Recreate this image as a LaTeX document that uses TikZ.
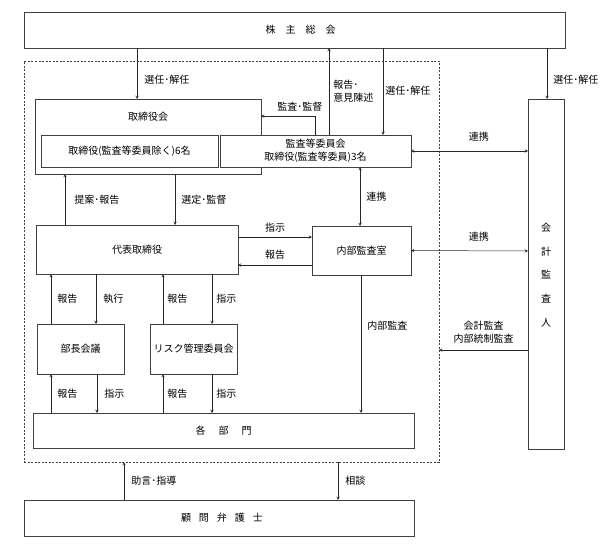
\documentclass[tikz,border=0pt]{standalone}
\usepackage{fontspec}
\setmainfont{Noto Sans CJK JP}
\usetikzlibrary{calc,arrows,positioning}

\tikzset{
	box/.style={draw=black!75,fill=white,anchor=north west,inner sep=0pt,outer sep=0pt,line width=0.6pt},
	grpbox/.style={draw=black!75,dashed,dash pattern=on 2pt off 1.5pt,anchor=north west,inner sep=0pt,outer sep=0pt,line width=0.5pt},
	lbl/.style={inner sep=0pt,align=left},
	link/.style={draw=black!85,line width=0.5pt},
}

\begin{document}
\begin{tikzpicture}[x=1pt,y=-1pt,>=stealth,font=\fontsize{10}{13}\selectfont]
	\useasboundingbox (0,0) rectangle (600,549);

	% boxes
	\node[grpbox,minimum width=415pt,minimum height=401pt] (grp) at (24,61) {};
	\node[box,minimum width=541pt,minimum height=36pt] (gm) at (24,12) {\hspace{12pt}株\hspace{1em}主\hspace{1em}総\hspace{1em}会};
	\node[box,minimum width=226pt,minimum height=75pt] (bd) at (35,99) {};
	\node[lbl] (bdt) at ($(bd.north)+(0,18)$) {取締役会};
	\node[box,minimum width=177pt,minimum height=32pt] (dir) at (41,135) {取締役(監査等委員除く)6名};
	\node[box,minimum width=191pt,minimum height=32pt,align=center] (ac) at (220,135) {監査等委員会\\取締役(監査等委員)3名};
	\node[box,minimum width=36pt,minimum height=350pt] (au) at (528,99) {};
	\node[lbl,align=center,font=\fontsize{10}{23.75}\selectfont] (aut) at ($(au.north)+(0,176)$) {会\\計\\監\\査\\人};
	\node[box,minimum width=202pt,minimum height=49pt] (ceo) at (36,225) {代表取締役};
	\node[box,minimum width=99pt,minimum height=49pt] (ia) at (312,226) {内部監査室};
	\node[box,minimum width=87pt,minimum height=50pt] (mm) at (37,324) {部長会議};
	\node[box,minimum width=87pt,minimum height=50pt] (rc) at (150,324) {リスク管理委員会};
	\node[box,minimum width=381pt,minimum height=35pt] (dept) at (33,413) {各\hspace{1.3em}部\hspace{1.3em}門};
	\node[box,minimum width=390pt,minimum height=36pt] (lw) at (24,500) {\hspace{6pt}顧\hspace{0.8em}問\hspace{0.8em}弁\hspace{0.8em}護\hspace{0.8em}士};

	% shareholders
	\draw[link,->] ([xshift=113pt]gm.south west) -- ([xshift=102pt]bd.north west)
		node[lbl,pos=0.63,right=7pt] {選任･解任};
	\draw[link,->] ([xshift=109pt]ac.north west) -- ([xshift=305pt]gm.south west)
		node[lbl,midway,right=4pt] {報告･\\意見陳述};
	\draw[link,->] ([xshift=359pt]gm.south west) -- ([xshift=163pt]ac.north west)
		node[lbl,pos=0.49,right=2pt] {選任･解任};
	\draw[link,->] ([xshift=95pt]ac.north west) |- ([yshift=-17pt]bd.north east)
		node[lbl,pos=0.64,above=4pt] {監査･監督};
	\draw[link,->] ([xshift=523pt]gm.south west) -- ([xshift=19pt]au.north west)
		node[lbl,pos=0.63,right=6pt] {選任･解任};

	% accounting auditor
	\draw[link,<->] (ac.east) -- ([yshift=-52pt]au.north west)
		node[lbl,pos=0.58,above=9pt] {連携};
	\draw[link,<->] (ia.east) -- ([yshift=-152pt]au.north west)
		node[lbl,pos=0.58,above=9pt] {連携};
	\draw[link,->] ([yshift=-251pt]au.north west) -- ([yshift=-289pt]grp.north east)
		node[lbl,align=center,midway,above=6pt] {会計監査\\内部統制監査};

	% board and representative director
	\draw[link,->] ([xshift=29pt]ceo.north west) -- ([xshift=30pt]bd.south west)
		node[lbl,midway,right=9pt] {提案･報告};
	\draw[link,->] ([xshift=140pt]bd.south west) -- ([xshift=139pt]ceo.north west)
		node[lbl,midway,right=6pt] {選定･監督};
	\draw[link,<->] ([xshift=140pt]ac.south west) -- ([xshift=48pt]ia.north west)
		node[lbl,midway,right=6pt] {連携};
	\draw[link,->] ([yshift=-12pt]ceo.north east) -- ([yshift=-11pt]ia.north west)
		node[lbl,midway,above=4pt] {指示};
	\draw[link,->] ([yshift=-39pt]ia.north west) -- ([yshift=-40pt]ceo.north east)
		node[lbl,midway,above=5pt] {報告};

	% committees
	\draw[link,->] ([xshift=14pt]mm.north west) -- ([xshift=15pt]ceo.south west)
		node[lbl,midway,right=6pt] {報告};
	\draw[link,->] ([xshift=60pt]ceo.south west) -- ([xshift=59pt]mm.north west)
		node[lbl,midway,right=7pt] {執行};
	\draw[link,->] ([xshift=13pt]rc.north west) -- ([xshift=127pt]ceo.south west)
		node[lbl,midway,right=4pt] {報告};
	\draw[link,->] ([xshift=176pt]ceo.south west) -- ([xshift=62pt]rc.north west)
		node[lbl,midway,right=4pt] {指示};

	% departments
	\draw[link,->] ([xshift=18pt]dept.north west) -- ([xshift=14pt]mm.south west)
		node[lbl,midway,right=6pt] {報告};
	\draw[link,->] ([xshift=60pt]mm.south west) -- ([xshift=64pt]dept.north west)
		node[lbl,midway,right=7pt] {指示};
	\draw[link,->] ([xshift=130pt]dept.north west) -- ([xshift=13pt]rc.south west)
		node[lbl,midway,right=4pt] {報告};
	\draw[link,->] ([xshift=62pt]rc.south west) -- ([xshift=179pt]dept.north west)
		node[lbl,midway,right=4pt] {指示};
	\draw[link,->] ([xshift=49pt]ia.south west) -- ([xshift=328pt]dept.north west)
		node[lbl,pos=0.37,right=6pt] {内部監査};

	% legal counsel
	\draw[link,->] ([xshift=100pt]lw.north west) -- ([xshift=100pt]grp.south west)
		node[lbl,midway,right=7pt] {助言･指導};
	\draw[link,->] ([xshift=314pt]grp.south west) -- ([xshift=314pt]lw.north west)
		node[lbl,midway,right=7pt] {相談};
\end{tikzpicture}
\end{document}
